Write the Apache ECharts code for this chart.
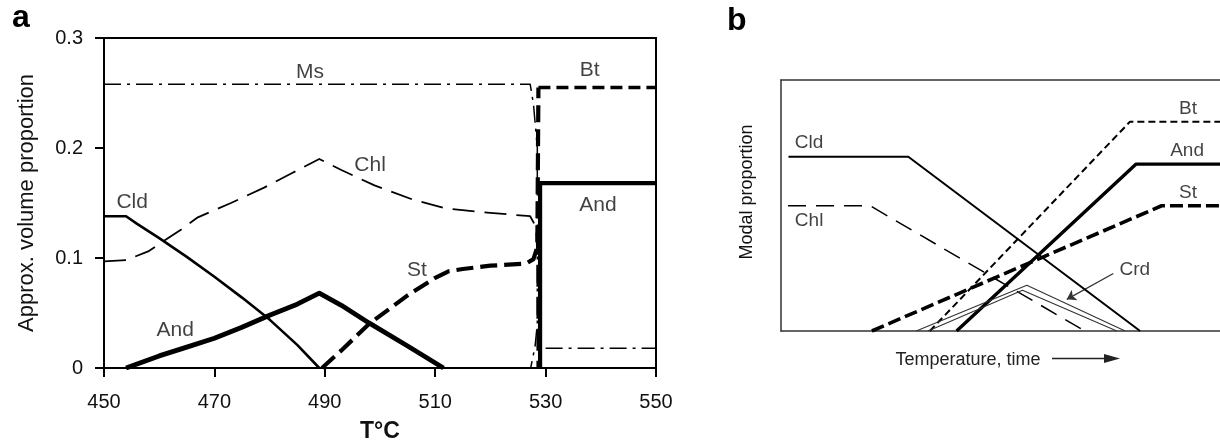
<!DOCTYPE html>
<html><head><meta charset="utf-8">
<script src="https://cdn.jsdelivr.net/npm/echarts@6/dist/echarts.min.js"></script>
<style>html,body{margin:0;padding:0;background:#fff}#c{width:1220px;height:446px}</style>
</head><body><div id="c"></div>
<script>
// ---------- Panel a : approx. volume proportion vs T (°C) ----------
const xTicksA = [450, 470, 490, 510, 530, 550];
const yTicksA = [0, 0.1, 0.2, 0.3];
const msA   = [[450,0.258],[527.2,0.258],[527.8,0.24],[528.5,0.2],[528.5,0.04],[528.1,0.02],[527.3,0]];
const msA2  = [[530,0.018],[550,0.018]];
const chlA  = [[450,0.097],[454,0.098],[458,0.106],[464,0.126],[467,0.137],[473,0.15],[479,0.164],[484,0.177],[489,0.19],[493,0.18],[499,0.166],[506,0.153],[512,0.145],[520,0.141],[527.2,0.138],[528.3,0.128],[528.5,0.1],[528.5,0]];
const cldA  = [[450,0.138],[454,0.138],[456,0.131],[460,0.118],[465,0.101],[470,0.083],[475,0.064],[480,0.044],[485,0.021],[489,0]];
const andA  = [[454,0],[460,0.011],[465,0.019],[470,0.027],[475,0.037],[480,0.048],[485,0.058],[489,0.068],[493,0.057],[498,0.041],[505,0.02],[511.5,0]];
const andA2 = [[529,0],[529,0.168],[550,0.168]];
const stA   = [[489.5,0],[493,0.016],[498,0.04],[505,0.066],[510,0.082],[512.5,0.088],[515,0.09],[520,0.093],[526.5,0.095],[527.8,0.099],[528.5,0.11],[528.7,0.255]];
const btA   = [[528.7,0.255],[550,0.255]];
const labelsA = [[487.3,0.269,'Ms'],[538,0.271,'Bt'],[498.2,0.184,'Chl'],[455.1,0.151,'Cld'],[462.9,0.034,'And'],[506.7,0.089,'St'],[539.5,0.148,'And']];

// ---------- Panel b : schematic modal proportion vs temperature/time (relative units) ----------
const cldB  = [[1.7,69.4],[29,69.4],[81.8,0]];
const chlB  = [[1.6,49.9],[20.3,49.9],[69.2,0]];
const btB   = [[33.9,0],[79.5,83.4],[100,83.4]];
const andB  = [[40,0],[80.9,66.5],[100,66.5]];
const stB   = [[20.7,0],[86.7,49.9],[100,49.9]];
const crdOuterB = [[30.8,0],[56,18.2],[78.4,0]];
const crdInnerB = [[33.5,0],[55,16.2],[76.5,0]];
const crdArrowB = [[75.7,22.9],[65.1,12.6]];
const labelsB = [[92.7,88.4,'Bt'],[92.5,71.8,'And'],[92.7,54.9,'St'],[6.4,74.9,'Cld'],[6.4,43.9,'Chl'],[80.6,24.2,'Crd']];

const FONT = "'Liberation Sans',Arial,Helvetica,sans-serif";
const INK = '#000';

function line(data, xi, yi, width, type, color) {
  return { type: 'line', data: data, xAxisIndex: xi, yAxisIndex: yi, symbol: 'none', silent: true,
    lineStyle: { width: width, type: type, color: color || INK, cap: 'butt', join: 'round' } };
}
function labels(data, xi, yi, size) {
  return { type: 'scatter', data: data, xAxisIndex: xi, yAxisIndex: yi, symbolSize: 1, silent: true,
    itemStyle: { color: 'transparent' },
    label: { show: true, position: 'inside', formatter: p => p.data[2], color: '#111', fontSize: size, fontFamily: FONT } };
}
const frameA = { show: true, onZero: false, lineStyle: { color: INK, width: 2 } };
const frameB = { show: true, onZero: false, lineStyle: { color: '#333', width: 1.5 } };

const option = {
  animation: false,
  grid: [
    { left: 104, top: 38, width: 552, height: 330, containLabel: false, outerBoundsMode: 'none' },
    { left: 781, top: 80, right: 0, height: 251, containLabel: false, outerBoundsMode: 'none' }
  ],
  xAxis: [
    { type: 'value', gridIndex: 0, min: xTicksA[0], max: xTicksA[xTicksA.length-1], interval: 20, position: 'bottom',
      axisLine: frameA, axisTick: { show: true, inside: false, length: 9, lineStyle: { color: INK, width: 2 } },
      axisLabel: { fontSize: 20, fontFamily: FONT, color: '#111', margin: 24 }, splitLine: { show: false },
      name: 'T°C', nameLocation: 'middle', nameGap: 52,
      nameTextStyle: { fontSize: 23, fontWeight: 'bold', fontFamily: FONT, color: '#111' } },
    { type: 'value', gridIndex: 0, min: 450, max: 550, position: 'top',
      axisLine: frameA, axisTick: { show: false }, axisLabel: { show: false }, splitLine: { show: false } },
    { type: 'value', gridIndex: 1, min: 0, max: 100, position: 'bottom',
      axisLine: frameB, axisTick: { show: false }, axisLabel: { show: false }, splitLine: { show: false } },
    { type: 'value', gridIndex: 1, min: 0, max: 100, position: 'top',
      axisLine: frameB, axisTick: { show: false }, axisLabel: { show: false }, splitLine: { show: false } }
  ],
  yAxis: [
    { type: 'value', gridIndex: 0, min: yTicksA[0], max: yTicksA[yTicksA.length-1], interval: 0.1, position: 'left',
      axisLine: frameA, axisTick: { show: true, inside: false, length: 9, lineStyle: { color: INK, width: 2 } },
      axisLabel: { fontSize: 20, fontFamily: FONT, color: '#111', margin: 21, formatter: v => v === 0 ? '0' : v.toFixed(1) },
      splitLine: { show: false },
      name: 'Approx. volume proportion', nameLocation: 'middle', nameRotate: 90, nameGap: 66,
      nameTextStyle: { fontSize: 22, fontFamily: FONT, color: '#111' } },
    { type: 'value', gridIndex: 0, min: 0, max: 0.3, position: 'right',
      axisLine: frameA, axisTick: { show: false }, axisLabel: { show: false }, splitLine: { show: false } },
    { type: 'value', gridIndex: 1, min: 0, max: 100, position: 'left',
      axisLine: frameB, axisTick: { show: false }, axisLabel: { show: false }, splitLine: { show: false } }
  ],
  series: [
    line(msA, 0, 0, 1.5, [17, 6, 3, 6]),
    line(msA2, 0, 0, 1.5, [17, 6, 3, 6]),
    line(chlA, 0, 0, 1.8, [22, 10]),
    line(cldA, 0, 0, 2.6),
    line(andA, 0, 0, 4.8),
    line(andA2, 0, 0, 4.2),
    line(stA, 0, 0, 4.2, [17, 7]),
    line(btA, 0, 0, 3.6, [12, 6]),
    labels(labelsA, 0, 0, 21),

    line(cldB, 2, 2, 2),
    line(chlB, 2, 2, 1.5, [18, 10]),
    line(btB, 2, 2, 2, [7, 4]),
    line(andB, 2, 2, 3.4),
    line(stB, 2, 2, 3.6, [13, 5]),
    line(crdOuterB, 2, 2, 1.1, 'solid', '#333'),
    line(crdInnerB, 2, 2, 1.1, 'solid', '#333'),
    { type: 'lines', coordinateSystem: 'cartesian2d', xAxisIndex: 2, yAxisIndex: 2, silent: true,
      symbol: ['none', 'arrow'], symbolSize: 9,
      lineStyle: { color: '#333', width: 1.3, opacity: 1 },
      data: [{ coords: crdArrowB }] },
    labels(labelsB, 2, 2, 19)
  ],
  graphic: [
    { type: 'text', left: 12, top: 2, style: { text: 'a', font: "bold 32px " + FONT, fill: INK } },
    { type: 'text', left: 727, top: 5, style: { text: 'b', font: "bold 32px " + FONT, fill: INK } },
    { type: 'text', x: 747, y: 192, rotation: Math.PI / 2, style: { text: 'Modal proportion', font: "18px " + FONT, fill: '#111', align: 'center', verticalAlign: 'middle' } },
    { type: 'text', x: 968, y: 360, style: { text: 'Temperature, time', font: "18px " + FONT, fill: '#222', align: 'center', verticalAlign: 'middle' } },
    { type: 'line', shape: { x1: 1052, y1: 358.5, x2: 1108, y2: 358.5 }, style: { stroke: '#222', lineWidth: 1.5 } },
    { type: 'polygon', shape: { points: [[1104, 354], [1120, 358.5], [1104, 363]] }, style: { fill: '#222' } }
  ]
};
const chart = echarts.init(document.getElementById('c'), null, { renderer: 'canvas' });
chart.setOption(option);
</script>
</body></html>
